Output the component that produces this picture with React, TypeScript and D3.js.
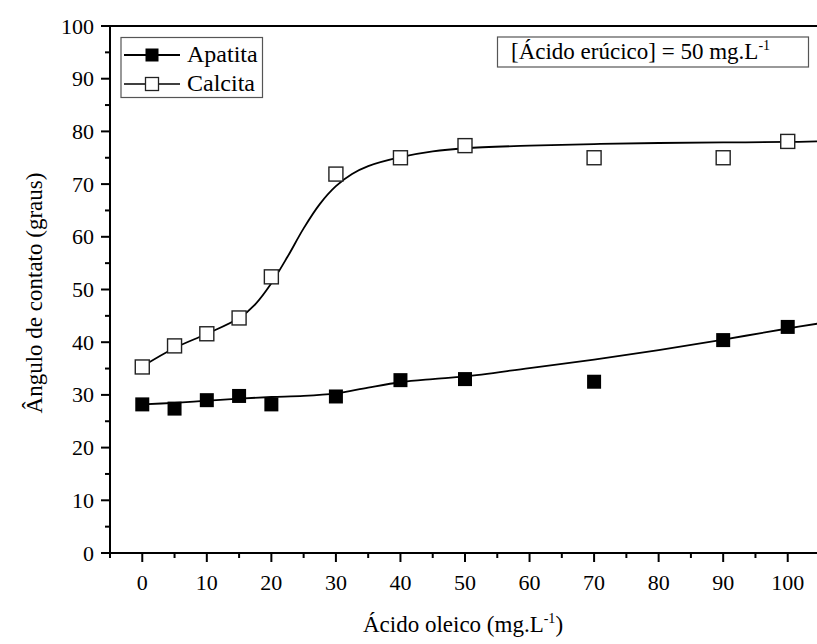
import React from "react";
import * as d3 from "d3";

const xValues = [0, 5, 10, 15, 20, 30, 40, 50, 70, 90, 100];
const apatita = [28.2, 27.4, 29.0, 29.8, 28.2, 29.7, 32.8, 33.0, 32.5, 40.4, 42.9];
const calcita = [35.3, 39.3, 41.6, 44.6, 52.4, 71.9, 75.0, 77.3, 75.0, 75.0, 78.1];

// fitted curves
const calcitaFitX = [0, 5, 10, 15, 17.5, 20, 22.5, 25, 27.5, 30, 32.5, 35, 40, 45, 50, 60, 70, 80, 90, 100, 105];
const calcitaFit = [35.4, 38.9, 41.6, 44.6, 47.2, 51.2, 56.2, 61.6, 66.2, 69.6, 71.9, 73.4, 75.1, 76.2, 76.8, 77.3, 77.6, 77.8, 77.9, 78.0, 78.1];
const apatitaFitX = [0, 5, 10, 15, 20, 25, 30, 35, 40, 45, 50, 60, 70, 80, 90, 100, 105];
const apatitaFit = [28.2, 28.5, 28.9, 29.3, 29.6, 29.8, 30.3, 31.4, 32.4, 33.0, 33.5, 35.1, 36.7, 38.5, 40.5, 42.6, 43.6];

const xTicks = [0, 10, 20, 30, 40, 50, 60, 70, 80, 90, 100];
const xMinor = [-5, 5, 15, 25, 35, 45, 55, 65, 75, 85, 95];
const yTicks = [0, 10, 20, 30, 40, 50, 60, 70, 80, 90, 100];
const yMinor = [5, 15, 25, 35, 45, 55, 65, 75, 85, 95];

const FONT = "Liberation Serif";

export default function App() {
  const W = 817, H = 644;
  const x = d3.scaleLinear().domain([-5, 105]).range([110, 820]);
  const y = d3.scaleLinear().domain([0, 100]).range([553, 26]);
  const line = d3.line()
    .x(function (d) { return x(d[0]); })
    .y(function (d) { return y(d[1]); })
    .curve(d3.curveCatmullRom.alpha(0.5));
  const calPath = line(calcitaFitX.map(function (v, i) { return [v, calcitaFit[i]]; })) || "";
  const apPath = line(apatitaFitX.map(function (v, i) { return [v, apatitaFit[i]]; })) || "";
  const ms = 14;
  const x0 = 110, y0 = y(0), yTop = y(100);

  return (
    <svg width={W} height={H} style={{ position: "absolute", left: 0, top: 0, background: "#fff" }}>
      <rect x={0} y={0} width={W} height={H} fill="#fff" />
      <defs>
        <clipPath id="plot"><rect x={x0} y={yTop} width={W - x0} height={y0 - yTop} /></clipPath>
      </defs>
      <line x1={x0} x2={W} y1={yTop} y2={yTop} stroke="#000" strokeWidth={2} />
      <line x1={x0} x2={W} y1={y0} y2={y0} stroke="#000" strokeWidth={2} />
      <line x1={x0} x2={x0} y1={yTop} y2={y0} stroke="#000" strokeWidth={2} />
      {xTicks.map(function (t) {
        return (
          <g key={"xt" + t}>
            <line x1={x(t)} x2={x(t)} y1={y0} y2={y0 + 9} stroke="#000" strokeWidth={2} />
            <text x={x(t)} y={590} fontSize={22} textAnchor="middle" fontFamily={FONT}>{t}</text>
          </g>
        );
      })}
      {xMinor.map(function (t) {
        return <line key={"xm" + t} x1={x(t)} x2={x(t)} y1={y0} y2={y0 + 5} stroke="#000" strokeWidth={2} />;
      })}
      {yTicks.map(function (t) {
        return (
          <g key={"yt" + t}>
            <line x1={x0 - 9} x2={x0} y1={y(t)} y2={y(t)} stroke="#000" strokeWidth={2} />
            <text x={94} y={y(t) + 7.5} fontSize={22} textAnchor="end" fontFamily={FONT}>{t}</text>
          </g>
        );
      })}
      {yMinor.map(function (t) {
        return <line key={"ym" + t} x1={x0 - 5} x2={x0} y1={y(t)} y2={y(t)} stroke="#000" strokeWidth={2} />;
      })}
      <text x={463} y={632} fontSize={23} textAnchor="middle" fontFamily={FONT}>
        Ácido oleico (mg.L<tspan dy={-9} fontSize={14}>-1</tspan><tspan dy={9}>)</tspan>
      </text>
      <text transform="translate(42,293) rotate(-90)" fontSize={23} textAnchor="middle" fontFamily={FONT}>Ângulo de contato (graus)</text>
      <g clipPath="url(#plot)">
        <path d={calPath} fill="none" stroke="#000" strokeWidth={1.8} />
        <path d={apPath} fill="none" stroke="#000" strokeWidth={1.8} />
        {xValues.map(function (v, i) {
          return <rect key={"c" + i} x={x(v) - ms / 2} y={y(calcita[i]) - ms / 2} width={ms} height={ms} fill="#fff" stroke="#222" strokeWidth={1.4} />;
        })}
        {xValues.map(function (v, i) {
          return <rect key={"a" + i} x={x(v) - ms / 2} y={y(apatita[i]) - ms / 2} width={ms} height={ms} fill="#000" />;
        })}
      </g>
      <rect x={121} y={37.5} width={141.5} height={60} fill="#fff" stroke="#555" strokeWidth={1.2} />
      <line x1={124} x2={180} y1={55} y2={55} stroke="#000" strokeWidth={1.8} />
      <rect x={145.5} y={48.5} width={13} height={13} fill="#000" />
      <text x={187} y={62} fontSize={24} fontFamily={FONT}>Apatita</text>
      <line x1={124} x2={180} y1={84} y2={84} stroke="#000" strokeWidth={1.4} />
      <rect x={145.5} y={77.5} width={13} height={13} fill="#fff" stroke="#222" strokeWidth={1.3} />
      <text x={187} y={91} fontSize={24} fontFamily={FONT}>Calcita</text>
      <rect x={497.5} y={37} width={311} height={30} fill="#fff" stroke="#555" strokeWidth={1.2} />
      <text x={511} y={59} fontSize={23} fontFamily={FONT}>
        [Ácido erúcico] = 50 mg.L<tspan dy={-9} fontSize={14}>-1</tspan>
      </text>
    </svg>
  );
}
